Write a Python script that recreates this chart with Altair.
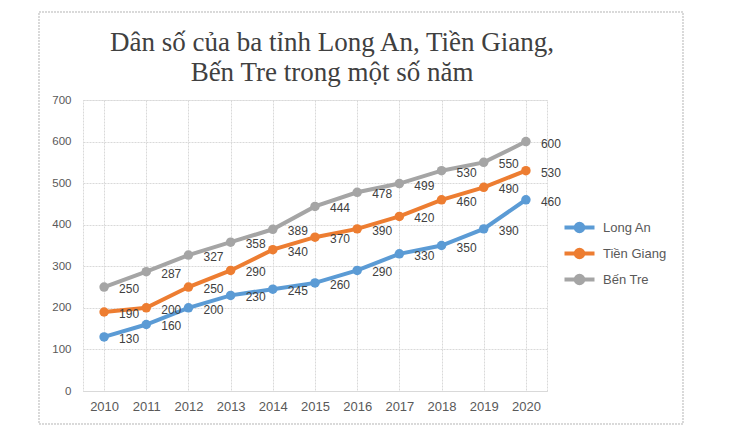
import altair as alt
import pandas as pd

years = [str(y) for y in range(2010, 2021)]
long_an = [130, 160, 200, 230, 245, 260, 290, 330, 350, 390, 460]
tien_giang = [190, 200, 250, 290, 340, 370, 390, 420, 460, 490, 530]
ben_tre = [250, 287, 327, 358, 389, 444, 478, 499, 530, 550, 600]
series = ["Long An", "Tiền Giang", "Bến Tre"]
colors = ["#5B9BD5", "#ED7D31", "#A5A5A5"]

rows = []
for name, vals in zip(series, [long_an, tien_giang, ben_tre]):
    for y, v in zip(years, vals):
        rows.append({"Năm": y, "Dân số": v, "Tỉnh": name})
df = pd.DataFrame(rows)

legend_path = "M-2,0H2M0.5,0A0.5,0.5,0,1,1,-0.5,0A0.5,0.5,0,1,1,0.5,0"

x = alt.X("Năm:N", title=None, scale=alt.Scale(paddingInner=0, paddingOuter=0),
          axis=alt.Axis(labelAngle=0, labelFontSize=13, labelColor="#595959", labelFont="Liberation Sans",
                        ticks=False, labelPadding=9, domainColor="#d9d9d9", bandPosition=0,
                        grid=True, gridColor="#d9d9d9", gridDash=[2, 1]))
y = alt.Y("Dân số:Q", title=None, scale=alt.Scale(domain=[0, 700]),
          axis=alt.Axis(values=list(range(0, 701, 100)), labelFontSize=11.5, labelColor="#595959",
                        labelFont="Liberation Sans", ticks=False, domain=False, labelPadding=12,
                        gridColor="#d9d9d9", gridDash=[2, 1]))
color = alt.Color("Tỉnh:N", scale=alt.Scale(domain=series, range=colors), sort=series,
                  legend=alt.Legend(title=None, orient="none", legendX=487, legendY=118,
                                    symbolType=legend_path, symbolSize=225, symbolStrokeWidth=4,
                                    labelFontSize=13, labelColor="#595959", labelFont="Liberation Sans",
                                    labelOffset=14, rowPadding=1))

lines = alt.Chart(df).mark_line(strokeWidth=4, point=alt.OverlayMarkDef(filled=True, size=90)).encode(
    x=x, y=y, color=color)

labels = alt.Chart(df).mark_text(align="left", baseline="middle", dx=15, dy=2, fontSize=12,
                                 font="Liberation Sans", color="#404040").encode(
    x=alt.X("Năm:N"), y=alt.Y("Dân số:Q"), text="Dân số:Q")

# faint outer border of the chart area
frame = alt.Chart(df).mark_rect(fill=None, stroke="#d9d9d9", strokeDash=[2, 1], strokeWidth=1).encode(
    x=alt.value(-44), x2=alt.value(600), y=alt.value(-88), y2=alt.value(324))

chart = alt.layer(frame, lines, labels).properties(
    width=464, height=291,
    autosize=alt.AutoSizeParams(type="none"),
    padding={"left": 75, "top": 92, "right": 197, "bottom": 36},
    title=alt.Title(["Dân số của ba tỉnh Long An, Tiền Giang,", "Bến Tre trong một số năm"],
                    font="Liberation Serif", fontSize=27, fontWeight="normal", color="#404040",
                    anchor="middle", baseline="alphabetic", dx=17, dy=96, offset=0, lineHeight=30),
).configure_view(stroke="#d9d9d9", strokeDash=[2, 1])

chart.save("out.html", embed_options={"renderer": "svg", "actions": False})
